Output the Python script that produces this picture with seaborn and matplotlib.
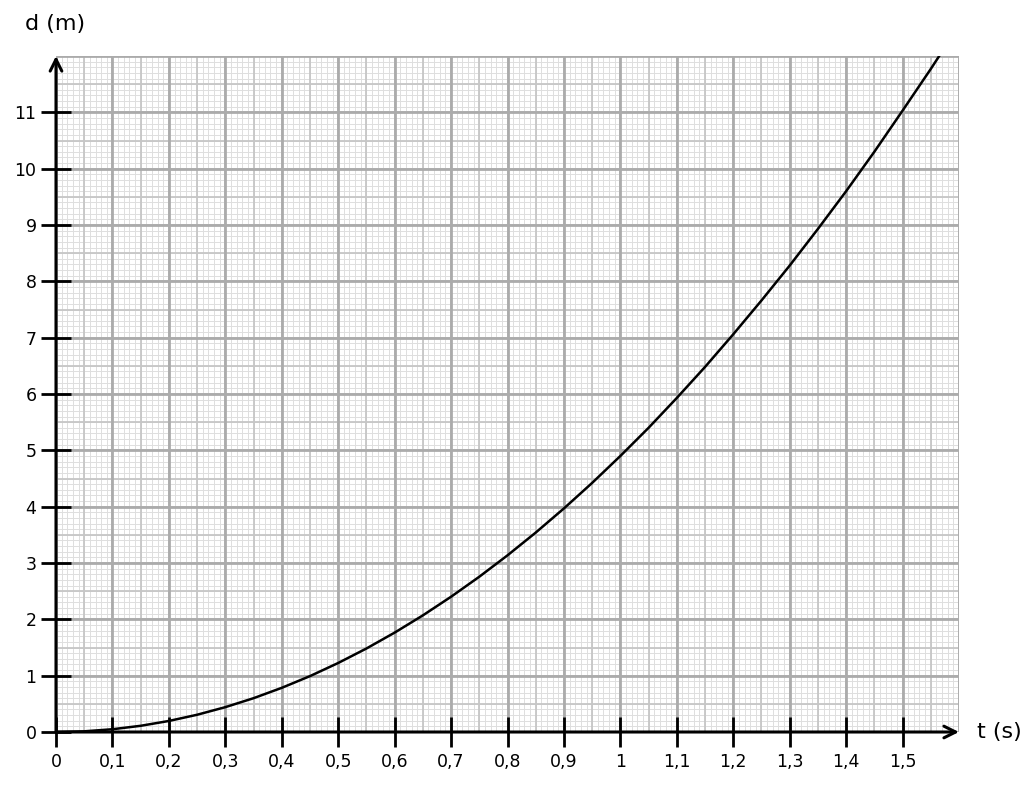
import matplotlib
matplotlib.use("Agg")
import matplotlib.pyplot as plt
import numpy as np
import pandas as pd
import seaborn as sns

# readings, every 0.05 s
t_s = [0.00, 0.05, 0.10, 0.15, 0.20, 0.25, 0.30, 0.35, 0.40, 0.45, 0.50,
       0.55, 0.60, 0.65, 0.70, 0.75, 0.80, 0.85, 0.90, 0.95, 1.00,
       1.05, 1.10, 1.15, 1.20, 1.25, 1.30, 1.35, 1.40, 1.45, 1.50,
       1.55, 1.60]
d_m = [0.00, 0.012, 0.049, 0.11, 0.196, 0.306, 0.441, 0.60, 0.784, 0.992, 1.225,
       1.482, 1.764, 2.07, 2.401, 2.756, 3.136, 3.54, 3.969, 4.422, 4.90,
       5.40, 5.93, 6.48, 7.06, 7.66, 8.28, 8.93, 9.60, 10.30, 11.03,
       11.77, 12.54]

x_ticks = [0, 0.1, 0.2, 0.3, 0.4, 0.5, 0.6, 0.7, 0.8, 0.9, 1.0, 1.1, 1.2, 1.3, 1.4, 1.5]
x_labels = ["0", "0,1", "0,2", "0,3", "0,4", "0,5", "0,6", "0,7", "0,8", "0,9",
            "1", "1,1", "1,2", "1,3", "1,4", "1,5"]
y_ticks = list(range(0, 12))
y_labels = [str(v) for v in y_ticks]

df = pd.DataFrame({"t": t_s, "d": d_m})

sns.set_style("white")
plt.rcParams["font.family"] = ["DejaVu Sans"]
plt.rcParams["text.color"] = "black"

fig = plt.figure(figsize=(10.24, 7.89), dpi=100)
ax = fig.add_axes([56 / 1024, 57 / 789, 903 / 1024, 676 / 789])
xmax, ymax = 1.6, 12.0
ax.set_xlim(0, xmax)
ax.set_ylim(0, ymax)

# graph paper: fine, half and main lines
fine_x = np.arange(0, 161) / 100
fine_y = np.arange(0, 121) / 10
ax.vlines(fine_x, 0, ymax, color="#dedede", lw=0.7, zorder=0)
ax.hlines(fine_y, 0, xmax, color="#dedede", lw=0.7, zorder=0)
ax.vlines(np.arange(0, 33) * 0.05, 0, ymax, color="#c6c6c6", lw=1.3, zorder=0)
ax.hlines(np.arange(0, 25) * 0.5, 0, xmax, color="#c6c6c6", lw=1.3, zorder=0)
ax.vlines(np.arange(0, 17) / 10, 0, ymax, color="#ababab", lw=2.0, zorder=0)
ax.hlines(np.arange(0, 13), 0, xmax, color="#ababab", lw=2.0, zorder=0)

sns.lineplot(data=df, x="t", y="d", color="black", lw=1.8, ax=ax, zorder=3)

for s in ax.spines.values():
    s.set_visible(False)

# axes with arrows
ax.annotate("", xy=(xmax, 0), xytext=(0, 0),
            arrowprops=dict(arrowstyle="->", lw=2.2, color="black",
                            mutation_scale=21, shrinkA=0, shrinkB=0),
            annotation_clip=False, zorder=4)
ax.annotate("", xy=(0, ymax), xytext=(0, 0),
            arrowprops=dict(arrowstyle="->", lw=2.2, color="black",
                            mutation_scale=21, shrinkA=0, shrinkB=0),
            annotation_clip=False, zorder=4)

ax.set_xticks(x_ticks)
ax.set_xticklabels(x_labels)
ax.set_yticks(y_ticks)
ax.set_yticklabels(y_labels)
ax.tick_params(axis="both", which="major", bottom=True, left=True,
               direction="inout", length=22, width=2.0,
               color="black", labelsize=12.5, labelcolor="black")
ax.tick_params(axis="x", pad=4)
ax.tick_params(axis="y", pad=3)
ax.set_xlabel("")
ax.set_ylabel("")

fig.text(25 / 1024, 1 - 24 / 789, "d (m)", fontsize=16, va="center", ha="left")
fig.text(977 / 1024, 1 - 732 / 789, "t (s)", fontsize=16, va="center", ha="left")

fig.savefig("out.png", dpi=100)
